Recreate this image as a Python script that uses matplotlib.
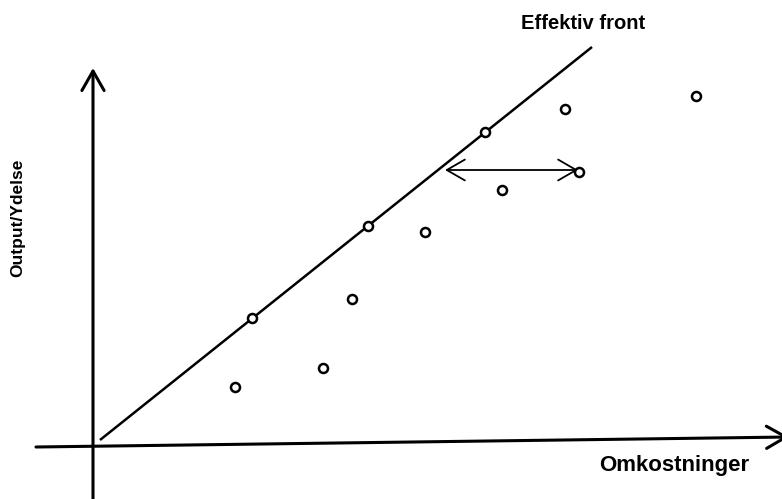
import matplotlib.pyplot as plt

# units: 1 unit = 50 px, origin at the axis crossing
cost = [2.84, 4.60, 5.18, 3.18, 5.50, 6.64, 7.84, 8.18, 9.44, 9.72, 12.06]
output = [1.12, 1.50, 2.88, 2.50, 4.34, 4.22, 6.22, 5.06, 6.68, 5.42, 6.94]

front_x = [0.14, 9.98]
front_y = [0.06, 7.92]

gap_y = 5.46
gap_x = [7.04, 9.70]

plt.rcParams['font.family'] = ['Liberation Sans', 'DejaVu Sans']

fig = plt.figure(figsize=(7.82, 4.99), dpi=100)
ax = fig.add_axes([0, 0, 1, 1])
ax.set_xlim(-1.86, 13.78)
ax.set_ylim(-1.12, 8.86)
ax.axis('off')

axis_arrow = dict(arrowstyle='->,head_length=1.4,head_width=0.8', lw=2.2, color='black',
                  shrinkA=0, shrinkB=0)

# axes drawn as arrows
ax.annotate('', xy=(0, 7.5), xytext=(0, -1.2), arrowprops=axis_arrow, annotation_clip=False)
ax.annotate('', xy=(13.92, 0.12), xytext=(-1.14, -0.08), arrowprops=axis_arrow,
            annotation_clip=False)

# efficient front
ax.plot(front_x, front_y, color='black', lw=1.8, solid_capstyle='butt')

# distance to front
ax.annotate('', xy=(gap_x[0], gap_y), xytext=(gap_x[1], gap_y),
            arrowprops=dict(arrowstyle='<->,head_length=1.3,head_width=0.75', lw=1.3,
                            color='black', shrinkA=0, shrinkB=0))

ax.plot(cost, output, 'o', ms=6.5, mfc='white', mec='black', mew=1.8, zorder=5)

ax.text(9.8, 8.4, 'Effektiv front', fontsize=14.5, fontweight='bold', ha='center', va='center')
ax.text(11.62, -0.44, 'Omkostninger', fontsize=16, fontweight='bold', ha='center', va='center')
ax.text(-1.5, 4.5, 'Output/Ydelse', fontsize=12.5, fontweight='bold', ha='center', va='center',
        rotation=90)

fig.savefig('out.png', dpi=100)
